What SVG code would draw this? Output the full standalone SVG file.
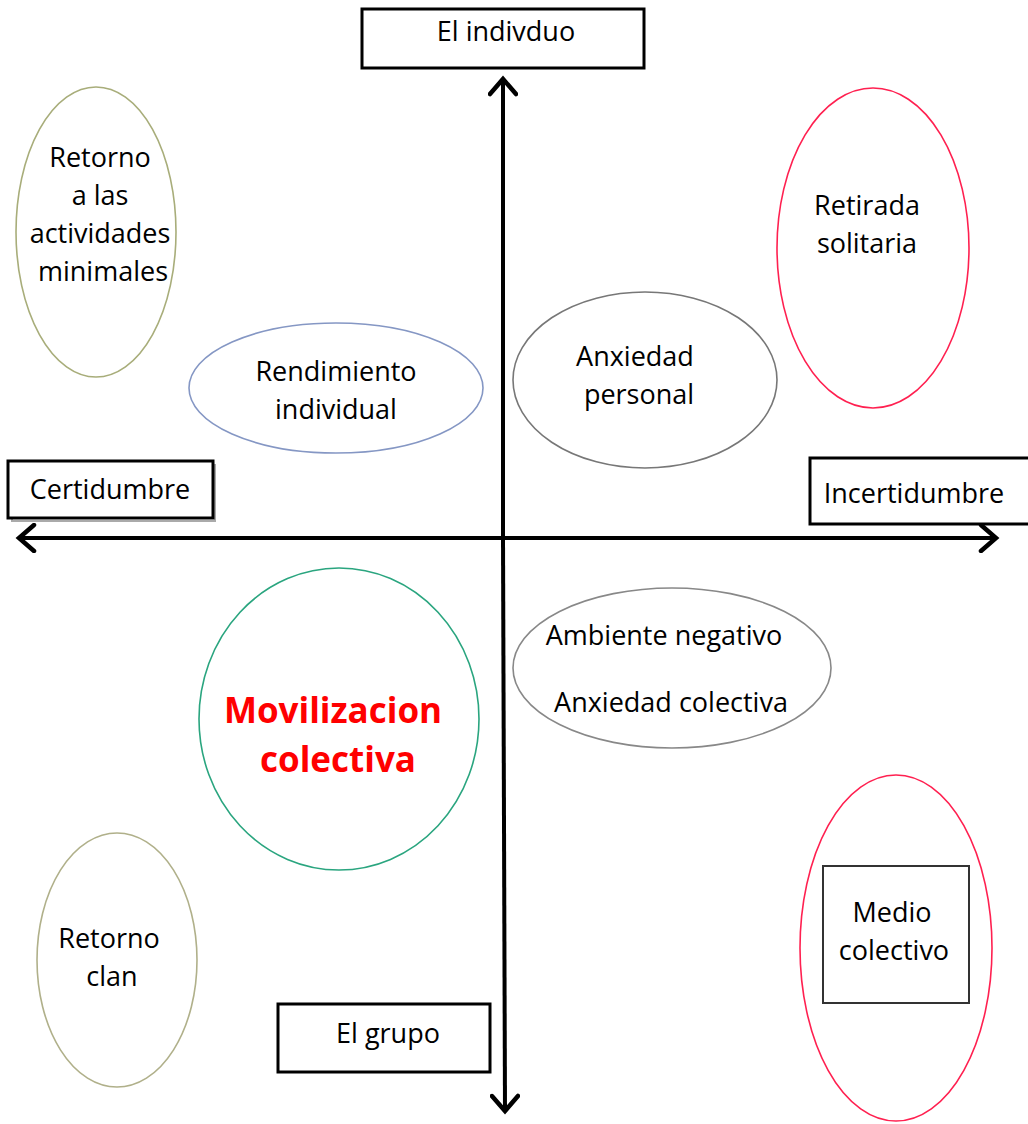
<svg xmlns="http://www.w3.org/2000/svg" width="1028" height="1124" viewBox="0 0 1028 1124">
<defs>
<style>
text{font-family:"Open Sans","Liberation Sans",sans-serif;font-size:27px;fill:#000;text-anchor:middle}
.bold{font-weight:bold;font-size:35px;fill:#ff0000}
.box{fill:#fff;stroke:#000;stroke-width:3}
.shadow{fill:none;stroke:#aaa;stroke-width:2}
.axis{stroke:#000;stroke-width:4;fill:none}
.ell{fill:none;stroke-width:1.6}
</style>
<marker id="arr" viewBox="0 0 30 30" refX="26" refY="15" markerWidth="30" markerHeight="30" markerUnits="userSpaceOnUse" orient="auto">
<path d="M11,2 L26,15 L11,28" fill="none" stroke="#000" stroke-width="4.5" stroke-linecap="round" stroke-linejoin="miter"/>
</marker>
</defs>
<rect width="1028" height="1124" fill="#fff"/>
<g id="connectors">
<line class="axis" x1="503" y1="538" x2="503" y2="79" marker-end="url(#arr)"/>
<line class="axis" x1="503" y1="538" x2="505" y2="1111" marker-end="url(#arr)"/>
<line class="axis" x1="503" y1="538" x2="19" y2="538" marker-end="url(#arr)"/>
<line class="axis" x1="503" y1="538" x2="996" y2="538" marker-end="url(#arr)"/>
</g>
<g id="el-individuo">
<rect class="box" x="362" y="9" width="282" height="59"/>
<text x="506" y="41">El indivduo</text>
</g>
<g id="certidumbre">
<rect class="shadow" x="12" y="465" width="203" height="56"/>
<rect class="box" x="8" y="461" width="205" height="57" stroke-width="2"/>
<text x="110" y="499">Certidumbre</text>
</g>
<g id="incertidumbre">
<rect class="shadow" x="814" y="462" width="216" height="62"/>
<rect class="box" x="810" y="458" width="222" height="66" stroke-width="2" stroke="#444"/>
<text x="914" y="503">Incertidumbre</text>
</g>
<g id="el-grupo">
<rect class="box" x="278" y="1004" width="212" height="68"/>
<text x="388" y="1043">El grupo</text>
</g>
<g id="retorno-actividades">
<ellipse class="ell" cx="96" cy="232" rx="80" ry="145" stroke="#a8ad7a"/>
<text x="100" y="167">Retorno</text>
<text x="100" y="205">a las</text>
<text x="100" y="243">actividades</text>
<text x="103" y="281">minimales</text>
</g>
<g id="retirada-solitaria">
<ellipse class="ell" cx="873" cy="248" rx="96" ry="160" stroke="#ff2050" stroke-width="2"/>
<text x="867" y="215">Retirada</text>
<text x="867" y="253">solitaria</text>
</g>
<g id="rendimiento-individual">
<ellipse class="ell" cx="336" cy="388" rx="147" ry="65" stroke="#8597c4"/>
<text x="336" y="381">Rendimiento</text>
<text x="336" y="419">individual</text>
</g>
<g id="anxiedad-personal">
<ellipse class="ell" cx="645" cy="380" rx="132" ry="88" stroke="#777"/>
<text x="635" y="366">Anxiedad</text>
<text x="639" y="404">personal</text>
</g>
<g id="movilizacion-colectiva">
<ellipse class="ell" cx="339" cy="719" rx="140" ry="151" stroke="#2aa57f" stroke-width="2"/>
<text class="bold" x="333" y="723">Movilizacion</text>
<text class="bold" x="338" y="772">colectiva</text>
</g>
<g id="ambiente-negativo">
<ellipse class="ell" cx="672" cy="668" rx="159" ry="80" stroke="#888"/>
<text x="664" y="645">Ambiente negativo</text>
<text x="671" y="712">Anxiedad colectiva</text>
</g>
<g id="retorno-clan">
<ellipse class="ell" cx="117" cy="960" rx="80" ry="127" stroke="#b0b08a"/>
<text x="109" y="948">Retorno</text>
<text x="112" y="986">clan</text>
</g>
<g id="medio-colectivo">
<ellipse class="ell" cx="896" cy="948" rx="96" ry="173" stroke="#ff2050" stroke-width="2"/>
<rect x="823" y="866" width="146" height="137" fill="none" stroke="#333" stroke-width="2"/>
<text x="892" y="922">Medio</text>
<text x="894" y="960">colectivo</text>
</g>
</svg>
